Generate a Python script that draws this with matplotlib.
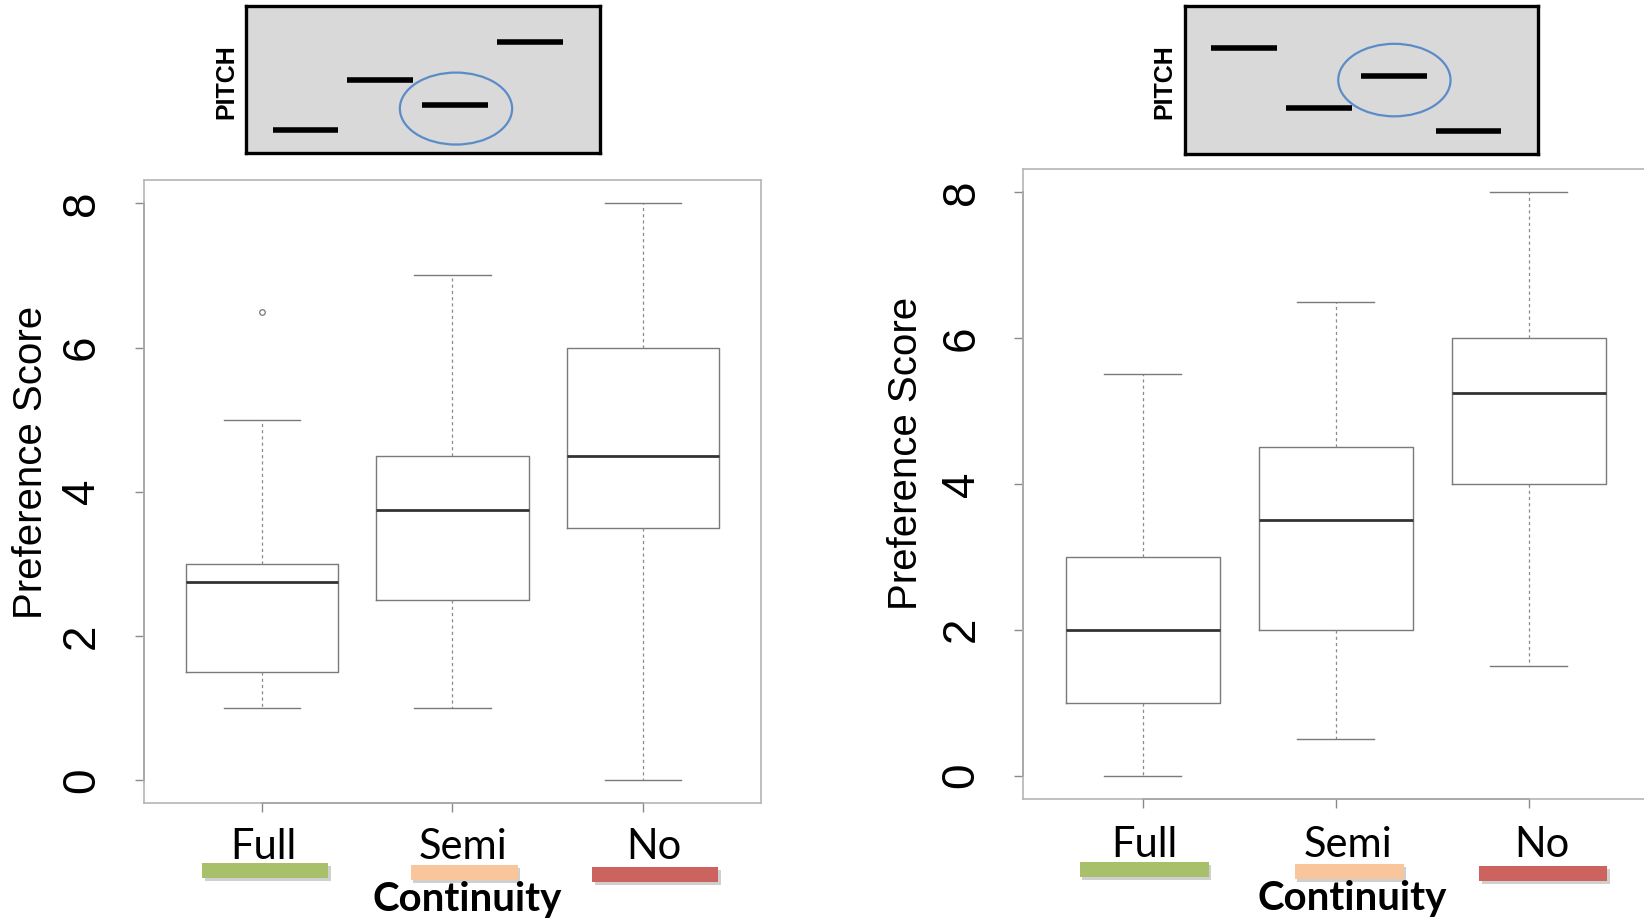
import matplotlib
matplotlib.use("Agg")
import matplotlib.pyplot as plt
from matplotlib.patches import Rectangle, Ellipse
import matplotlib.transforms as mtransforms

W, H = 1644, 919

# categories and box statistics
groups = ["Full", "Semi", "No"]
bar_colors = ["#a9c06a", "#f9c59a", "#cd635e"]

left_q1 = [1.5, 2.5, 3.5]
left_med = [2.75, 3.75, 4.5]
left_q3 = [3.0, 4.5, 6.0]
left_lo = [1.0, 1.0, 0.0]
left_hi = [5.0, 7.0, 8.0]
left_fliers = [[6.5], [], []]

right_q1 = [1.0, 2.0, 4.0]
right_med = [2.0, 3.5, 5.25]
right_q3 = [3.0, 4.5, 6.0]
right_lo = [0.0, 0.5, 1.5]
right_hi = [5.5, 6.5, 8.0]
right_fliers = [[], [], []]

# melodic contour in the little pitch pictures (relative pitch per note)
left_pitch = [0.0, 2.0, 1.0, 3.5]
right_pitch = [3.25, 0.9, 2.15, 0.0]
highlight = 2

y_ticks = [0, 2, 4, 6, 8]


def fr(x0, y0, x1, y1):
    # pixel box (top-left origin) -> figure fraction rect
    return [x0 / W, 1 - y1 / H, (x1 - x0) / W, (y1 - y0) / H]


def make_stats(q1, med, q3, lo, hi, fl):
    out = []
    for i in range(len(q1)):
        out.append(dict(med=med[i], q1=q1[i], q3=q3[i], whislo=lo[i],
                        whishi=hi[i], fliers=fl[i], label=groups[i]))
    return out


def draw_box(ax, stats):
    ax.bxp(stats, positions=[1, 2, 3], widths=0.8, capwidths=0.4,
           boxprops=dict(color="#7a7a7a", lw=1.0),
           medianprops=dict(color="#333333", lw=2.0),
           whiskerprops=dict(color="#8a8a8a", lw=0.9, linestyle=(0, (2.5, 2.5))),
           capprops=dict(color="#7a7a7a", lw=1.0),
           flierprops=dict(marker="o", markersize=4, markerfacecolor="none",
                           markeredgecolor="#777777", markeredgewidth=0.9))
    ax.set_xlim(0.38, 3.62)
    ax.set_ylim(-0.32, 8.32)
    ax.set_xticks([1, 2, 3])
    ax.set_xticklabels([])
    ax.set_yticks(y_ticks)
    ax.set_yticklabels([str(t) for t in y_ticks], rotation=90, va="center",
                       fontsize=33, family=["Liberation Sans", "DejaVu Sans"])
    ax.tick_params(axis="both", length=6.5, width=1.0, color="#8a8a8a", pad=22)
    ax.tick_params(axis="x", pad=0)
    for s in ax.spines.values():
        s.set_color("#b5b5b5")
        s.set_linewidth(1.2)
    # R style axis lines between first and last tick
    ty = mtransforms.blended_transform_factory(ax.transAxes, ax.transData)
    tx = mtransforms.blended_transform_factory(ax.transData, ax.transAxes)
    ax.plot([0, 0], [y_ticks[0], y_ticks[-1]], color="#6a6a6a", lw=1.3,
            transform=ty, clip_on=False)
    ax.plot([1, 3], [0, 0], color="#6a6a6a", lw=1.3, transform=tx, clip_on=False)


def draw_pitch(rect, pitch, label_xy):
    pax = fig.add_axes(rect)
    pax.set_facecolor("#d9d9d9")
    pax.set_xlim(-0.35, 4.37)
    pax.set_ylim(-0.91, 4.9)
    pax.set_xticks([])
    pax.set_yticks([])
    for s in pax.spines.values():
        s.set_color("black")
        s.set_linewidth(2.4)
    for i, p in enumerate(pitch):
        pax.plot([i, i + 0.88], [p, p], color="black", lw=4, solid_capstyle="butt")
    p = pitch[highlight]
    pax.add_patch(Ellipse((highlight + 0.45, p - 0.15), 1.5, 2.85, fill=False,
                          edgecolor="#5b8cc8", lw=1.6))
    fig.text(label_xy[0] / W, 1 - label_xy[1] / H, "PITCH", rotation=90,
             ha="center", va="center", fontsize=18, fontweight="bold",
             family=["Liberation Sans", "DejaVu Sans"])


def draw_labels(text_x, text_y, bars, cont_xy):
    for i, g in enumerate(groups):
        fig.text(text_x[i] / W, 1 - text_y / H, g, ha="center", va="center",
                 fontsize=30, family=["Lato", "DejaVu Sans"])
        x0, y0, x1, y1 = bars[i]
        fig.patches.append(Rectangle((x0 / W + 0.0015, 1 - (y1 + 3) / H),
                                     (x1 - x0) / W, (y1 - y0) / H,
                                     transform=fig.transFigure, color="#cfcfcf",
                                     lw=0, zorder=1))
        fig.patches.append(Rectangle((x0 / W, 1 - y1 / H), (x1 - x0) / W,
                                     (y1 - y0) / H, transform=fig.transFigure,
                                     color=bar_colors[i], lw=0, zorder=2))
    fig.text(cont_xy[0] / W, 1 - cont_xy[1] / H, "Continuity", ha="center",
             va="center", fontsize=29, fontweight="bold",
             family=["Lato", "DejaVu Sans"])


fig = plt.figure(figsize=(W / 100, H / 100), dpi=100)

axL = fig.add_axes(fr(143.6, 180.3, 761.2, 803.2))
draw_box(axL, make_stats(left_q1, left_med, left_q3, left_lo, left_hi, left_fliers))
axR = fig.add_axes(fr(1023.3, 168.8, 1648.3, 799.0))
draw_box(axR, make_stats(right_q1, right_med, right_q3, right_lo, right_hi, right_fliers))

fig.text(31 / W, 1 - 462 / H, "Preference Score", rotation=90, ha="center",
         va="center", fontsize=29, family=["Liberation Sans", "DejaVu Sans"])
fig.text(906 / W, 1 - 453 / H, "Preference Score", rotation=90, ha="center",
         va="center", fontsize=29, family=["Liberation Sans", "DejaVu Sans"])

draw_pitch(fr(246.4, 6.3, 599.7, 153.0), left_pitch, (226.5, 82))
draw_pitch(fr(1184.8, 6.3, 1538.1, 154.1), right_pitch, (1164.5, 82))

draw_labels([263.2, 463.4, 654.3], 847.2,
            [(202.4, 862.9, 328.2, 877.6), (411.0, 865.0, 518.0, 879.7),
             (592.4, 867.0, 718.2, 881.8)], (467.6, 899.6))
draw_labels([1143.9, 1348.4, 1542.3], 845.1,
            [(1080.0, 861.9, 1208.9, 876.5), (1294.9, 864.0, 1404.0, 878.7),
             (1479.4, 866.0, 1607.4, 880.7)], (1352.6, 898.6))

fig.savefig("out.png", dpi=100)
